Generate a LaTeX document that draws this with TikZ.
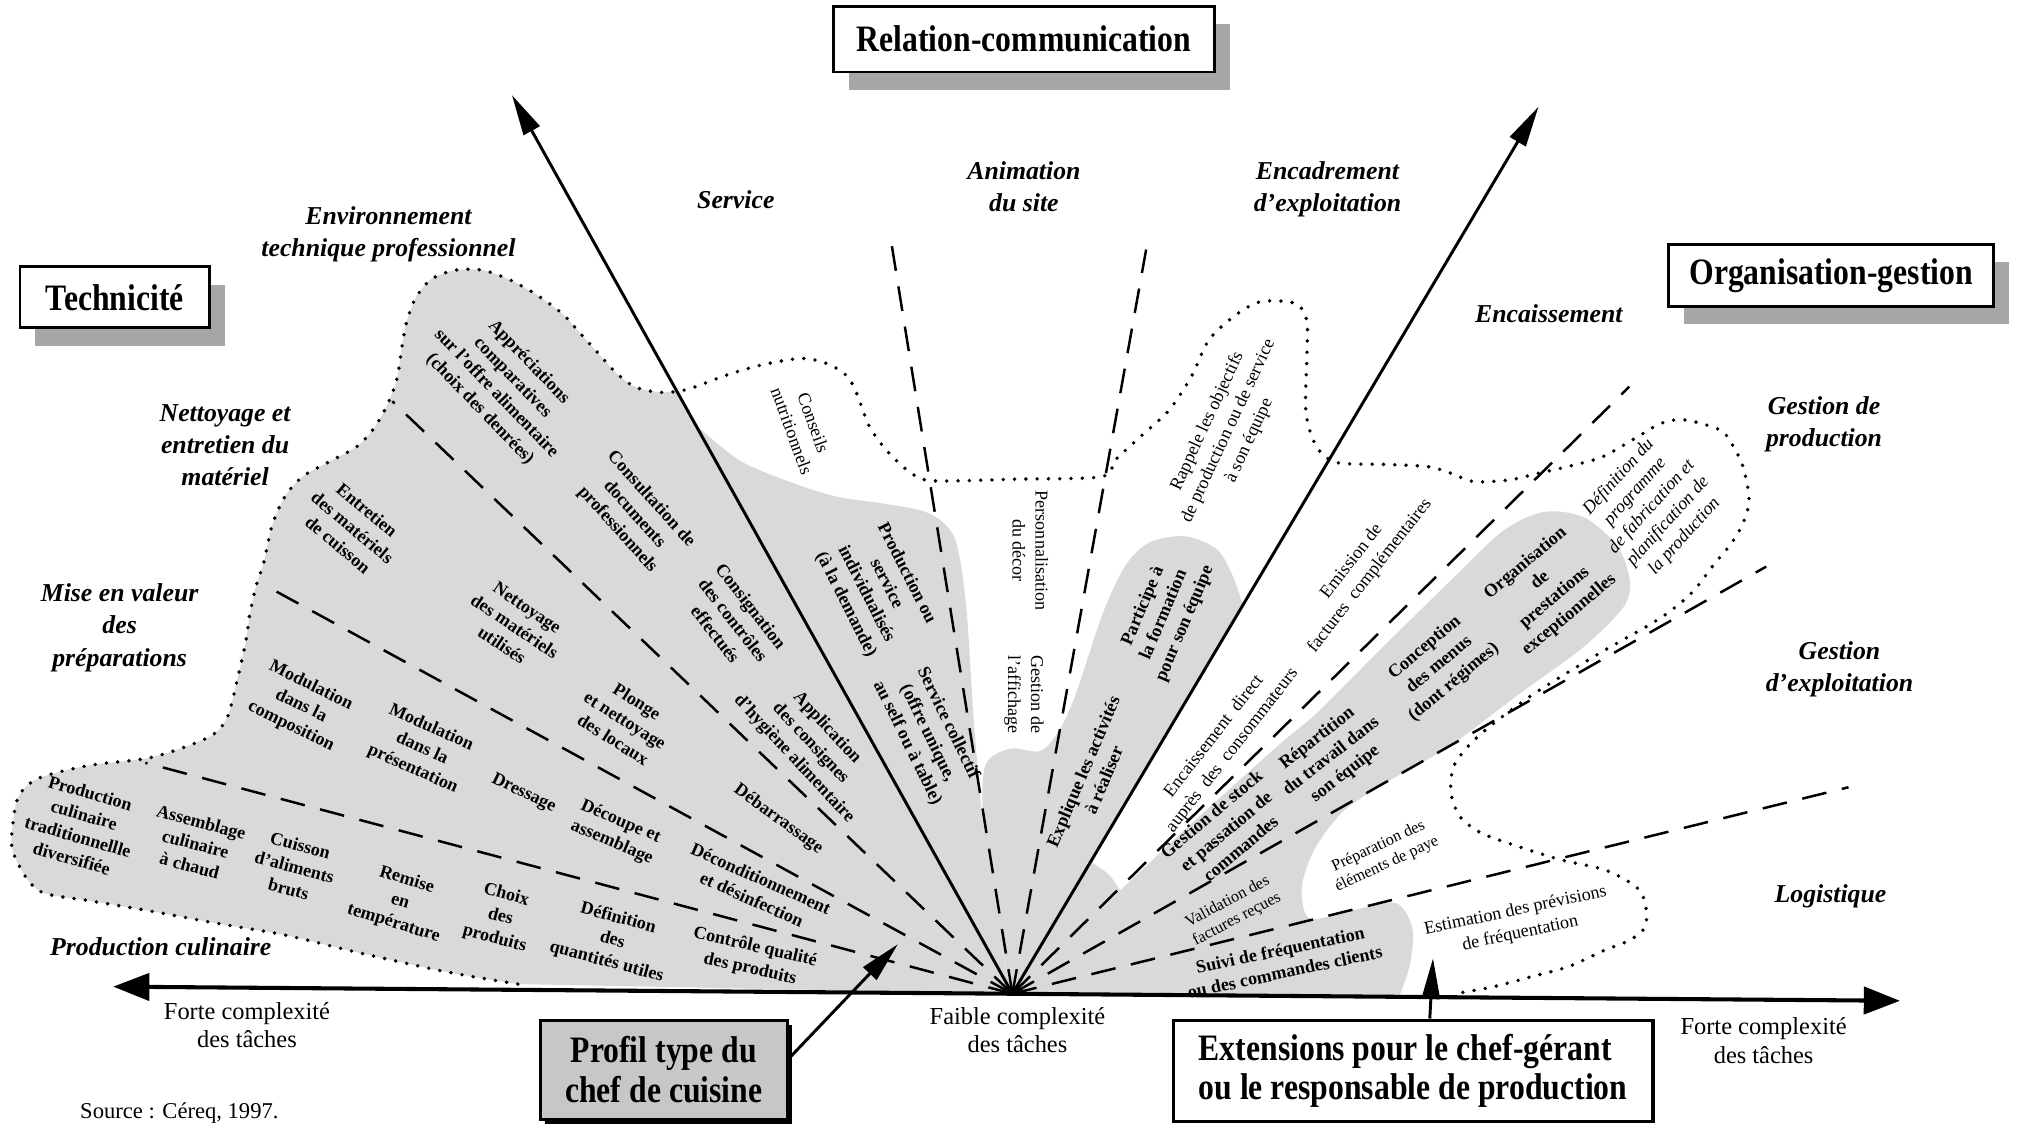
\documentclass[tikz,border=0pt]{standalone}
\usepackage{fontspec}
\setmainfont{Liberation Serif}
\newfontfamily\condfont[FakeStretch=0.85]{Liberation Serif}
\usetikzlibrary{arrows.meta,shadows,calc}
\begin{document}
\begin{tikzpicture}[x=0.02cm,y=-0.02cm,
  sb/.style={font=\fontsize{8}{10}\selectfont\bfseries, align=center, inner sep=0pt},
  sr/.style={font=\fontsize{8}{10.2}\selectfont, align=center, inner sep=0pt},
  ssr/.style={font=\fontsize{7.2}{8.8}\selectfont, align=center, inner sep=0pt},
  si/.style={font=\fontsize{8}{9.8}\selectfont\itshape, align=center, inner sep=0pt},
  lab/.style={font=\fontsize{11.4}{14.2}\selectfont\bfseries\itshape, align=center, inner sep=0pt},
  axl/.style={font=\fontsize{10.8}{12.5}\selectfont, align=center, inner sep=0pt},
  titlebox/.style={draw, line width=1.3pt, fill=white, inner sep=0pt, align=center,
     font=\condfont\bfseries\fontsize{16.5}{17.6}\selectfont,
     drop shadow={shadow xshift=0.24cm, shadow yshift=-0.28cm, fill=black!35, opacity=1}},
  dashl/.style={line width=1.1pt, dash pattern=on 11pt off 7pt},
  dotl/.style={line width=1.7pt, line cap=round, dash pattern=on 0pt off 5pt},
  rad/.style={line width=1.3pt, -{Triangle[length=18pt,width=8pt]}},
  axisline/.style={line width=1.8pt, {Triangle[length=16pt,width=12pt]}-{Triangle[length=16pt,width=12pt]}},
  shade/.style={fill=black!15}
]
\useasboundingbox (0,0) rectangle (1568,878);

% key coordinates
\coordinate (O) at (787,772.5);
\coordinate (axL) at (88,767);
\coordinate (axR) at (1477,778);
\coordinate (tipL) at (398,74);
\coordinate (tipR) at (1196,83);
\coordinate (eL1) at (305,312);
\coordinate (eL2) at (206,455);
\coordinate (eL3) at (113,593);
\coordinate (eA1) at (692,183);
\coordinate (eA2) at (891,194);
\coordinate (eR2) at (1266.6,300.6);
\coordinate (eR3) at (1373,440.5);
\coordinate (eR4) at (1437,612);
\coordinate (ptip) at (698,734);
\coordinate (etip) at (1114,745);

% gray (profil type) regions
\fill[shade] plot[smooth,tension=.5] coordinates {(402.5,765) (347,755.5) (277.6,740.3) (222,727) (166.6,717.4) (114.5,707.8) (69.4,700.2) (34.7,694.5) (20.8,683) (9.5,660) (10.4,637) (15,618) (30,605) (69.4,595) (114.5,589.5) (145.7,580) (166.6,570.4) (177,557) (184,530.3) (190.9,499.7) (194.3,476.8) (199.5,454) (204.7,438.7) (211.7,408) (222,385.2) (236,370) (256.8,358.5) (277.6,347) (291.5,331.8) (302,312.7) (308.8,293.6) (312.3,270.7) (315.8,251.6) (322.7,232.5) (335,217.2) (354,210) (374.8,210) (395.6,217.2) (416.4,228.7) (437.2,243.9) (451.1,259.2) (465,274.5) (478.9,289.8) (494,301) (513.6,305) (527,304)}
  -- (540.6,330) -- plot[smooth,tension=.5] coordinates {(540.6,330) (575,358) (615,375) (650,386) (690,392) (722,399) (742,418) (751,470) (757,560) (765,650) (775,720) (787,772.5)} -- cycle;
% middle core (below the affichage text) and Participe / Explique band
\fill[shade] (O) -- plot[smooth,tension=.5] coordinates {(770,700) (764,640) (766,595) (785,582) (808,584) (822,570) (835,543) (858,475) (876,438) (895,421) (922,417) (946,427) (958,447) (966,470)} -- cycle;
% small core between the right arrow and R2
\fill[shade] (O) -- (848,670) -- plot[smooth,tension=.6] coordinates {(848,670) (862,680) (872,694)} -- cycle;
% right band
\fill[shade] (O) -- plot[smooth,tension=.5] coordinates {(850,712) (920,646) (992,581) (1024,554) (1075,503) (1127,452) (1168,413) (1200,398) (1231,402) (1257,424) (1267,451) (1262,472) (1231,503) (1179,541) (1127,580) (1080,607) (1045,630) (1022,660) (1012,690) (1018,714) (1050,708) (1085,702) (1098,722) (1096,750) (1088,774)} -- cycle;

% dashed sector lines
\foreach \e in {eL1,eL2,eL3,eA1,eA2,eR2,eR3,eR4}
  \draw[dashl] (O) -- (\e);

% dotted outline
\draw[dotl] plot[smooth,tension=.5] coordinates {(402.5,765) (347,755.5) (277.6,740.3) (222,727) (166.6,717.4) (114.5,707.8) (69.4,700.2) (34.7,694.5) (20.8,683) (9.5,660) (10.4,637) (15,618) (30,605) (69.4,595) (114.5,589.5) (145.7,580) (166.6,570.4) (177,557) (184,530.3) (190.9,499.7) (194.3,476.8) (199.5,454) (204.7,438.7) (211.7,408) (222,385.2) (236,370) (256.8,358.5) (277.6,347) (291.5,331.8) (302,312.7) (308.8,293.6) (312.3,270.7) (315.8,251.6) (322.7,232.5) (335,217.2) (354,210) (374.8,210) (395.6,217.2) (416.4,228.7) (437.2,243.9) (451.1,259.2) (465,274.5) (478.9,289.8) (494,301) (513.6,305) (534,302.8) (565,291.5) (593,283.5) (624,278.6) (645,283.5) (659,293) (666,306) (676,331.8) (690,351) (707.4,367) (724.8,373.7) (790,372.5) (856.6,370.5) (867,357.6) (888,338.2) (908.7,319) (926,293) (940,264) (960.7,244.8) (978,235.1) (995,234) (1009.3,237) (1016,250) (1016,275) (1015,318) (1020,340) (1028,353) (1041,360) (1075,361) (1109.7,362.7) (1127.9,367.9) (1146,374.4) (1173.3,373.1) (1196,367.9) (1218.8,362.7) (1246,355) (1273.3,339.4) (1291.5,329) (1309.7,326.4) (1337,334.2) (1346,344.6) (1355,362.7) (1359.7,388.6) (1355,406.8) (1346,422.3) (1333,438) (1315,461) (1290,481) (1250,504) (1220,522) (1190,541) (1161.5,562) (1142.3,579) (1130,596) (1128,616.7) (1135,634.9) (1152,647.8) (1180.7,658.2) (1214.3,668.6) (1247.8,676.3) (1271.8,689.3) (1279,702.3) (1279,720.4) (1267,730.8) (1247.8,738.5) (1219,751.5) (1190.3,759.3) (1161.5,767) (1132.7,772.2)};

% solid radial arrows and axis
\draw[rad] (O) -- (tipL);
\draw[rad] (O) -- (tipR);
\draw[axisline] (axL) -- (axR);

% title boxes
\node[titlebox, minimum width=5.92cm, minimum height=1.02cm] (rel) at (796,30.5) {Relation-communication};
\node[titlebox, minimum width=2.95cm, minimum height=0.95cm] (tech) at (89.3,231.2) {Technicité};
\node[titlebox, minimum width=5.06cm, minimum height=0.96cm] (org) at (1423.5,214) {Organisation-gestion};
\node[draw, line width=1.3pt, fill=black!22, inner sep=0pt, align=center,
      font=\condfont\bfseries\fontsize{16.5}{17.6}\selectfont,
      minimum width=3.84cm, minimum height=1.54cm,
      drop shadow={shadow xshift=2pt, shadow yshift=-2pt, fill=black, opacity=1}] (prof) at (516,831.5) {Profil type du\\chef de cuisine};
\node[draw, line width=1.4pt, fill=white, inner sep=0pt, align=left,
      font=\condfont\bfseries\fontsize{16.5}{17.6}\selectfont,
      minimum width=7.46cm, minimum height=1.58cm] (ext) at (1098.5,832.5) {Extensions pour le chef-gérant\\ou le responsable de production};

\draw[rad] (prof.5) -- (ptip);
\draw[rad] ($(ext.north)+(13,0)$) -- (etip);

% italic sector labels
\node[lab] (l1) at (302,182) {Environnement\\technique professionnel};
\node[lab] (l2) at (572,155) {Service};
\node[lab] (l3) at (796,145) {Animation\\du site};
\node[lab] (l4) at (1032,147) {Encadrement\\d'exploitation};
\node[lab] (l5) at (175,346) {Nettoyage et\\entretien du\\matériel};
\node[lab] (l6) at (93,488) {Mise en valeur\\des\\préparations};
\node[lab] (l7) at (125,736) {Production culinaire};
\node[lab] (l8) at (1204,244) {Encaissement};
\node[lab] (l9) at (1418,330) {Gestion de\\production};
\node[lab] (l10) at (1430,520) {Gestion\\d'exploitation};
\node[lab] (l11) at (1423,697) {Logistique};

% axis labels
\node[axl] (a1) at (192,797) {Forte complexité\\des tâches};
\node[axl] (a2) at (791,801) {Faible complexité\\des tâches};
\node[axl] (a3) at (1371,809) {Forte complexité\\des tâches};
\node[font=\fontsize{10}{12}\selectfont, anchor=west, inner sep=0pt] (src) at (62,865) {Source : Céreq, 1997.};

% left cluster tasks
\node[sb, rotate=-46] (t1) at (392,300) {Appréciations\\comparatives\\sur l'offre alimentaire\\(choix des denrées)};
\node[sb, rotate=-48] (t2) at (493,400) {Consultation de\\documents\\professionnels};
\node[sb, rotate=-52] (t3) at (570,482) {Consignation\\des contrôles\\effectués};
\node[sb, rotate=-47] (t4) at (630,578) {Application\\des consignes\\d'hygiène alimentaire};
\node[sb, rotate=-40] (t5) at (274,410) {Entretien\\des matériels\\de cuisson};
\node[sb, rotate=-34] (t6) at (400,487) {Nettoyage\\des matériels\\utilisés};
\node[sb, rotate=-32] (t7) at (486,560) {Plonge\\et nettoyage\\des locaux};
\node[sb, rotate=-36] (t8) at (605,637) {Débarrassage};
\node[sb, rotate=-26] (t9) at (234,549) {Modulation\\dans la\\composition};
\node[sb, rotate=-24] (t10) at (328,582) {Modulation\\dans la\\présentation};
\node[sb, rotate=-26] (t11) at (407,617) {Dressage};
\node[sb, rotate=-23] (t12) at (479,647) {Découpe et\\assemblage};
\node[sb, rotate=-24] (t13) at (588,691) {Déconditionnement\\et désinfection};
\node[sb, rotate=-16] (t14) at (63,642) {Production\\culinaire\\traditionnellle\\diversifiée};
\node[sb, rotate=-15] (t15) at (152,656) {Assemblage\\culinaire\\à chaud};
\node[sb, rotate=-15] (t16) at (229,674) {Cuisson\\d'aliments\\bruts};
\node[sb, rotate=-17] (t17) at (311,701) {Remise\\en\\température};
\node[sb, rotate=-15] (t18) at (389,713) {Choix\\des\\produits};
\node[sb, rotate=-15] (t19) at (476,731) {Définition\\des\\quantités utiles};
\node[sb, rotate=-13] (t20) at (585,745) {Contrôle qualité\\des produits};

% middle tasks
\node[sb, rotate=-63] (t21) at (681,458) {Production ou\\service\\individualisés\\(à la demande)};
\node[sb, rotate=-64] (t22) at (721,570) {Service collectif\\(offre unique,\\au self ou à table)};
\node[sr, rotate=-70] (t23) at (624,332) {Conseils\\nutritionnels};
\node[sr, rotate=-90] (t24) at (801,428) {Personnalisation\\du décor};
\node[sr, rotate=-90] (t25) at (796,540) {Gestion de\\l'affichage};
\node[sr, rotate=65] (t26) at (955,335) {Rappele les objectifs\\de production ou de service\\à son équipe};
\node[sb, rotate=67] (t27) at (905,478) {Participe à\\la formation\\pour son équipe};
\node[sb, rotate=67] (t28) at (850,603) {Explique les activités\\à réaliser};

% right cluster tasks
\node[sr, rotate=52] (t29) at (1058,442) {Emission de\\factures\ \ complémentaires};
\node[sr, rotate=52] (t30) at (951,578) {Encaissement\ \ direct\\auprès\ \ des\ \ consommateurs};
\node[sb, rotate=40] (t31) at (953,646) {Gestion de stock\\et passation de\\commandes};
\node[sb, rotate=38] (t32) at (1035,588) {Répartition\\du travail dans\\son équipe};
\node[sb, rotate=40] (t33) at (1119,517) {Conception\\des menus\\(dont régimes)};
\node[sb, rotate=40] (t34) at (1203,458) {Organisation\\de\\prestations\\exceptionnelles};
\node[si, rotate=48] (t35) at (1284,394) {Définition du\\programme\\de fabrication et\\planification de\\la production};
\node[ssr, rotate=28] (t36) at (958,708) {Validation des\\factures reçues};
\node[ssr, rotate=25] (t37) at (1075,665) {Préparation des\\éléments de paye};
\node[sb, rotate=12] (t38) at (997,747) {Suivi de fréquentation\\ou des commandes clients};
\node[sr, rotate=12] (t39) at (1180,717) {Estimation des prévisions\\de fréquentation};
\end{tikzpicture}
\end{document}
